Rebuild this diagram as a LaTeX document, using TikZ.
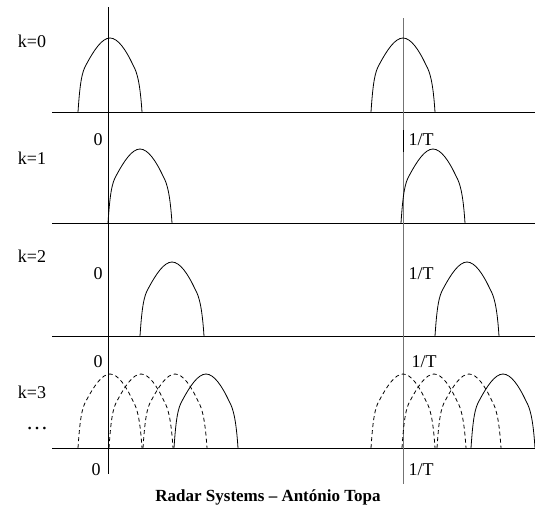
\documentclass[tikz,border=0pt]{standalone}
\usepackage{fontspec}
\setmainfont{Liberation Serif}
\begin{document}
\begin{tikzpicture}[x={(1pt,0)},y={(0,-1pt)},
  axisline/.style={line width=0.9pt,black},
  grayaxis/.style={line width=1pt,black!55},
  lbl/.style={font=\fontsize{18}{20}\selectfont,inner sep=0pt},
  pulse/.pic={\draw[line width=0.8pt,pic actions] (-32,0) .. controls (-30,-30) and (-28,-40) .. (-24,-47)
      .. controls (-16,-62) and (-8,-74) .. (0,-74)
      .. controls (8,-74) and (16,-62) .. (23,-47)
      .. controls (27,-40) and (30,-30) .. (32,0);},
  ghost/.style={dash pattern=on 4pt off 3pt}]
\useasboundingbox (0,0) rectangle (535,517);
% baselines
\foreach \b/\n in {112/a,223/b,336/c,448/d}{
  \coordinate (bl\n) at (52,\b);
  \coordinate (br\n) at (535,\b);
  \draw[axisline] (bl\n) -- (br\n);
}
% vertical axes
\coordinate (lt) at (108,7);
\coordinate (lb) at (108,474);
\coordinate (rt) at (403,18);
\coordinate (rb) at (403,484);
\draw[axisline] (lt) -- (lb);
\draw[grayaxis] (rt) -- (rb);
\coordinate (rs1) at (403,130);
\coordinate (rs2) at (403,152);
\draw[axisline] (rs1) -- (rs2);
% pulses k=0
\pic at (110,112) {pulse};
\pic at (403,112) {pulse};
% k=1
\pic at (140,223) {pulse};
\pic at (433,223) {pulse};
% k=2
\pic at (172,336) {pulse};
\pic at (467,336) {pulse};
% k=3
\pic[ghost] at (110,448) {pulse};
\pic[ghost] at (141,448) {pulse};
\pic[ghost] at (175,448) {pulse};
\pic at (206,448) {pulse};
\pic[ghost] at (403,448) {pulse};
\pic[ghost] at (434,448) {pulse};
\pic[ghost] at (469,448) {pulse};
\pic at (503,448) {pulse};
% labels
\node[lbl] (k0) at (32,41) {k=0};
\node[lbl] (k1) at (32,158) {k=1};
\node[lbl] (k2) at (32,256) {k=2};
\node[lbl] (k3) at (32,392) {k=3};
\node[font=\fontsize{22}{24}\selectfont,inner sep=0pt,anchor=base] (dots) at (37,429) {…};
\node[lbl] (z1) at (98,140) {0};
\node[lbl] (z2) at (98,274) {0};
\node[lbl] (z3) at (98,362) {0};
\node[lbl] (z4) at (96,470) {0};
\node[lbl] (t1) at (421,140) {1/T};
\node[lbl] (t2) at (421,274) {1/T};
\node[lbl] (t3) at (424,362) {1/T};
\node[lbl] (t4) at (421,470) {1/T};
\node[font=\fontsize{17}{19}\selectfont\bfseries,inner sep=0pt] (title) at (268,497) {Radar Systems – António Topa};
\end{tikzpicture}
\end{document}
